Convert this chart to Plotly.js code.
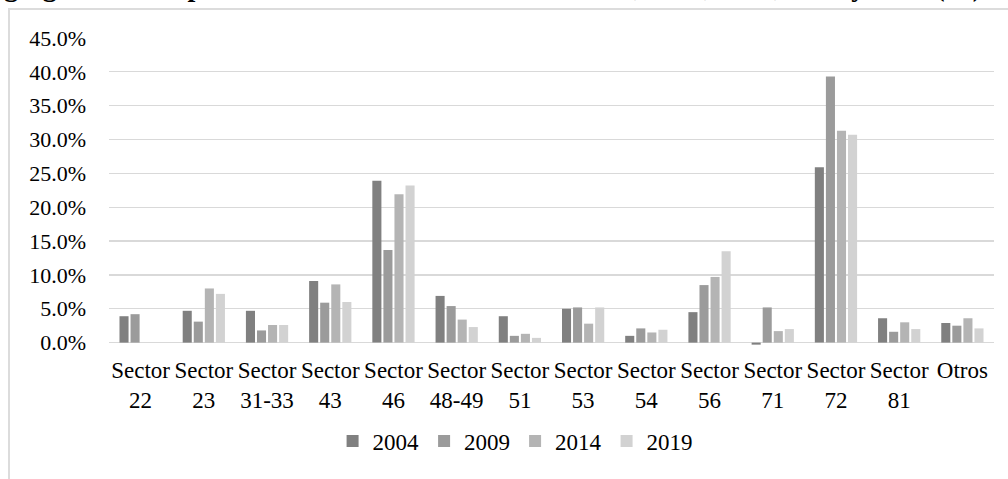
<!DOCTYPE html>
<html>
<head>
<meta charset="utf-8">
<script src="https://cdn.plot.ly/plotly-3.0.1.min.js"></script>
<style>
  html, body { margin: 0; padding: 0; width: 1008px; height: 479px; overflow: hidden; background: #fff; }
  #frame { position: absolute; left: 8px; top: 8px; width: 1100px; height: 600px; border: 2px solid #dcdcdc; }
  #chart { position: absolute; left: 0; top: 0; width: 1008px; height: 479px; }
</style>
</head>
<body>
<div id="frame"></div>
<div id="chart"></div>
<script>
const categories = ["Sector<br>22", "Sector<br>23", "Sector<br>31-33", "Sector<br>43", "Sector<br>46", "Sector<br>48-49", "Sector<br>51", "Sector<br>53", "Sector<br>54", "Sector<br>56", "Sector<br>71", "Sector<br>72", "Sector<br>81", "Otros<br> "];
const years = ["2004", "2009", "2014", "2019"];
const v2004 = [3.9, 4.7, 4.7, 9.1, 23.9, 6.9, 3.9, 5.0, 1.0, 4.5, -0.3, 25.9, 3.6, 2.9];
const v2009 = [4.2, 3.1, 1.8, 5.9, 13.7, 5.4, 1.0, 5.2, 2.1, 8.5, 5.2, 39.3, 1.6, 2.5];
const v2014 = [0, 8.0, 2.6, 8.6, 21.9, 3.4, 1.3, 2.8, 1.5, 9.7, 1.7, 31.3, 3.0, 3.6];
const v2019 = [0, 7.2, 2.6, 6.0, 23.2, 2.3, 0.7, 5.2, 1.9, 13.5, 2.0, 30.7, 2.0, 2.1];
const colors = ["#808080", "#9b9b9b", "#b4b4b4", "#d2d2d2"];
const yTicks = [0, 5, 10, 15, 20, 25, 30, 35, 40, 45];
const yTickText = yTicks.map(v => v.toFixed(1) + "%");
const titleText = "Valor agregado censal por subsector de actividad económica, 2004, 2009, 2014 y 2019 (%)";

const series = [v2004, v2009, v2014, v2019];
const font = "Liberation Serif, Times New Roman, serif";
const traces = series.map((vals, i) => ({
  type: "bar",
  name: years[i],
  x: categories,
  y: vals,
  marker: { color: colors[i], line: { width: 0 } },
  hoverinfo: "skip"
}));

const layout = {
  width: 1008, height: 479,
  margin: { l: 109, r: 14, t: 37.5, b: 133.3, pad: 0 },
  paper_bgcolor: "rgba(0,0,0,0)",
  plot_bgcolor: "rgba(0,0,0,0)",
  barmode: "group",
  bargap: 0.30,
  bargroupgap: 0.18,
  font: { family: font, size: 23, color: "#000" },
  xaxis: {
    type: "category",
    showgrid: false, showline: false, ticks: "",
    tickangle: 0,
    tickfont: { family: font, size: 23, color: "#000" },
    ticklabelstandoff: 8
  },
  yaxis: {
    range: [-0.5, 45],
    tickvals: yTicks, ticktext: yTickText,
    showgrid: true, gridcolor: "#d9d9d9", gridwidth: 1.2,
    zeroline: true, zerolinecolor: "#d9d9d9", zerolinewidth: 1.5,
    showline: false, ticks: "",
    tickfont: { family: font, size: 22, color: "#000" },
    ticklabelstandoff: 22
  },
  showlegend: true,
  legend: {
    orientation: "h",
    xref: "container", yref: "container",
    x: 0.511, xanchor: "center",
    y: 0.079, yanchor: "middle",
    font: { family: font, size: 23, color: "#000" },
    itemwidth: 30,
    traceorder: "normal"
  },
  annotations: [{
    text: "<b>" + titleText + "</b>",
    xref: "paper", yref: "paper",
    x: -0.218, xanchor: "left",
    y: 1.110, yanchor: "bottom",
    showarrow: false,
    font: { family: font, size: 28, color: "#000" }
  }]
};

Plotly.newPlot("chart", traces, layout, { staticPlot: true, displayModeBar: false });
</script>
</body>
</html>
